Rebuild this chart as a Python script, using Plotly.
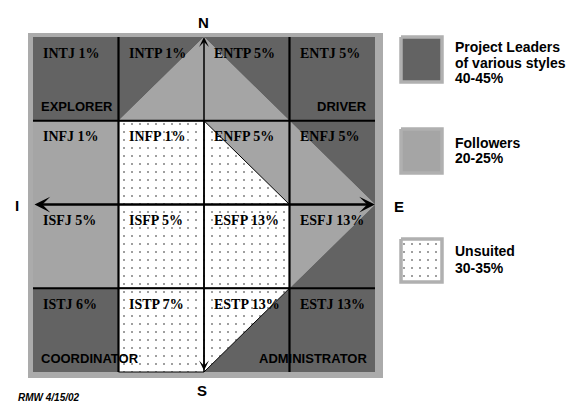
import plotly.graph_objects as go

# ---------------- data ----------------
types = [["INTJ", "INTP", "ENTP", "ENTJ"],
         ["INFJ", "INFP", "ENFP", "ENFJ"],
         ["ISFJ", "ISFP", "ESFP", "ESFJ"],
         ["ISTJ", "ISTP", "ESTP", "ESTJ"]]
pcts = [[1, 1, 5, 5],
        [1, 1, 5, 5],
        [5, 5, 13, 13],
        [6, 7, 13, 13]]
# L = project leaders, F = followers, U = unsuited
# "A|B/" : cell split by the / diagonal, A upper-left, B lower-right
# "A|B\\": cell split by the \ diagonal, A lower-left, B upper-right
cell_fill = [["L", "L|F/", "F|L\\", "L"],
             ["F", "U", "U|F\\", "F|L\\"],
             ["F", "U", "U", "F|L/"],
             ["L", "U", "U|L/", "L"]]
roles = ["EXPLORER", "DRIVER", "COORDINATOR", "ADMINISTRATOR"]
role_cells = [(0, 0), (0, 3), (3, 0), (3, 3)]
compass = ["N", "S", "I", "E"]
legend_codes = ["L", "F", "U"]
legend_lines = [["Project Leaders", "of various styles", "40-45%"],
                ["Followers", "20-25%"],
                ["Unsuited", "30-35%"]]
footnote = "RMW 4/15/02"

# ---------------- style / layout ----------------
PAGE_W, PAGE_H = 574, 403
OFF = 8                      # default body margin of the html page
W, H = PAGE_W - OFF, PAGE_H - OFF
X0, Y0, CW, CH = 33.0, 37.0, 85.5, 83.75   # page-pixel placement of the 4x4 grid


def px_x(p):
    return (p - X0) / CW


def px_y(p):
    return (p - Y0) / CH


COL = {"L": "#636363", "F": "#a5a5a5", "U": "#ffffff"}
FRAME = "#ababab"
SERIF = "Liberation Serif, Times New Roman, serif"
SANS = "Liberation Sans, Arial, sans-serif"
DOTS = dict(shape=".", fgcolor="#000000", bgcolor="#ffffff", size=8, solidity=0.05)

fig = go.Figure()


def cell_polys(r, c, code):
    TL, TR, BL, BR = (c, r), (c + 1, r), (c, r + 1), (c + 1, r + 1)
    if "|" not in code:
        return [(code, [TL, TR, BR, BL])]
    a, rest = code.split("|")
    b, d = rest[0], rest[1]
    if d == "/":
        return [(a, [TL, TR, BL]), (b, [TR, BR, BL])]
    return [(a, [TL, BR, BL]), (b, [TL, TR, BR])]


paths = {"L": ([], []), "F": ([], []), "U": ([], [])}
for r in range(4):
    for c in range(4):
        for g, pts in cell_polys(r, c, cell_fill[r][c]):
            xs, ys = paths[g]
            for (px, py) in pts + [pts[0]]:
                xs.append(px)
                ys.append(py)
            xs.append(None)
            ys.append(None)

for g in ["L", "F"]:
    xs, ys = paths[g]
    fig.add_trace(go.Scatter(x=xs, y=ys, mode="lines", fill="toself",
                             fillcolor=COL[g], line=dict(width=0, color=COL[g]),
                             hoverinfo="skip", showlegend=False))
xs, ys = paths["U"]
fig.add_trace(go.Scatter(x=xs, y=ys, mode="lines", fill="toself",
                         fillcolor="#ffffff", fillpattern=DOTS,
                         line=dict(width=1, color="#000000"),
                         hoverinfo="skip", showlegend=False))

# legend boxes
box_px = [(401, 37, 442, 82), (401, 129, 442, 173), (401, 239, 442, 282)]
line_centers = [[47, 63, 78], [143, 158], [251, 268]]
for code, (bx0, by0, bx1, by1), lines, cys in zip(legend_codes, box_px, legend_lines, line_centers):
    bx = [px_x(bx0), px_x(bx1), px_x(bx1), px_x(bx0), px_x(bx0)]
    by = [px_y(by0), px_y(by0), px_y(by1), px_y(by1), px_y(by0)]
    kw = {}
    if code == "U":
        kw["fillpattern"] = DOTS
    fig.add_trace(go.Scatter(x=bx, y=by, mode="lines", fill="toself",
                             fillcolor=COL[code], line=dict(width=3.5, color="#b0b0b0"),
                             hoverinfo="skip", showlegend=False, **kw))
    for txt, cy in zip(lines, cys):
        fig.add_annotation(x=px_x(453), y=px_y(cy), xref="x", yref="y",
                           text="<b>" + txt + "</b>", showarrow=False,
                           xanchor="left", yanchor="middle",
                           font=dict(family=SANS, size=14, color="#000000"))

shapes = []
# outer frame
shapes.append(dict(type="rect", xref="x", yref="y", x0=px_x(28), y0=px_y(33),
                   x1=px_x(383), y1=px_y(378), fillcolor=FRAME, line=dict(width=0),
                   layer="below"))
# grid lines
for k in [1, 3]:
    shapes.append(dict(type="line", xref="x", yref="y", x0=k, x1=k, y0=0, y1=4,
                       line=dict(color="#000000", width=2.2), layer="above"))
    shapes.append(dict(type="line", xref="x", yref="y", x0=0, x1=4, y0=k, y1=k,
                       line=dict(color="#000000", width=2.2), layer="above"))
fig.update_layout(shapes=shapes)

# compass arrows
fig.add_annotation(x=2, y=0, ax=2, ay=4, xref="x", yref="y", axref="x", ayref="y",
                   text="", showarrow=True, arrowside="end+start",
                   arrowhead=3, startarrowhead=3, arrowwidth=1.5,
                   arrowsize=1.1, startarrowsize=1.1, arrowcolor="#000000",
                   standoff=0, startstandoff=0)
fig.add_annotation(x=4, y=2, ax=0, ay=2, xref="x", yref="y", axref="x", ayref="y",
                   text="", showarrow=True, arrowside="end+start",
                   arrowhead=3, startarrowhead=3, arrowwidth=2.5,
                   arrowsize=1.05, startarrowsize=1.05, arrowcolor="#000000",
                   standoff=0, startstandoff=0)

# cell labels
for r in range(4):
    for c in range(4):
        fig.add_annotation(x=c + 8 / CW, y=r + 16 / CH, xref="x", yref="y",
                           text="<b>%s %d%%</b>" % (types[r][c], pcts[r][c]),
                           showarrow=False, xanchor="left", yanchor="middle",
                           font=dict(family=SERIF, size=14, color="#000000"))

# role labels
for name, (r, c) in zip(roles, role_cells):
    left = c == 0
    fig.add_annotation(x=(c + 6 / CW) if left else (c + 1 - 6 / CW),
                       y=r + 1 - 14 / CH, xref="x", yref="y",
                       text="<b>" + name + "</b>", showarrow=False,
                       xanchor="left" if left else "right", yanchor="middle",
                       font=dict(family=SANS, size=13, color="#000000"))

# compass letters
comp_px = [(203, 22), (202, 390), (17, 205), (399, 206)]
for lab, (cx, cy) in zip(compass, comp_px):
    fig.add_annotation(x=px_x(cx), y=px_y(cy), xref="x", yref="y",
                       text="<b>" + lab + "</b>", showarrow=False,
                       xanchor="center", yanchor="middle",
                       font=dict(family=SANS, size=15, color="#000000"))

fig.add_annotation(x=px_x(16), y=px_y(397), xref="x", yref="y",
                   text="<b><i>" + footnote + "</i></b>", showarrow=False,
                   xanchor="left", yanchor="middle",
                   font=dict(family=SANS, size=10, color="#000000"))

fig.update_layout(
    width=W, height=H, margin=dict(l=0, r=0, t=0, b=0),
    paper_bgcolor="#ffffff", plot_bgcolor="#ffffff",
    xaxis=dict(range=[px_x(OFF), px_x(PAGE_W)], visible=False, fixedrange=True),
    yaxis=dict(range=[px_y(PAGE_H), px_y(OFF)], visible=False, fixedrange=True),
    showlegend=False,
)

fig.write_html("out.html")
